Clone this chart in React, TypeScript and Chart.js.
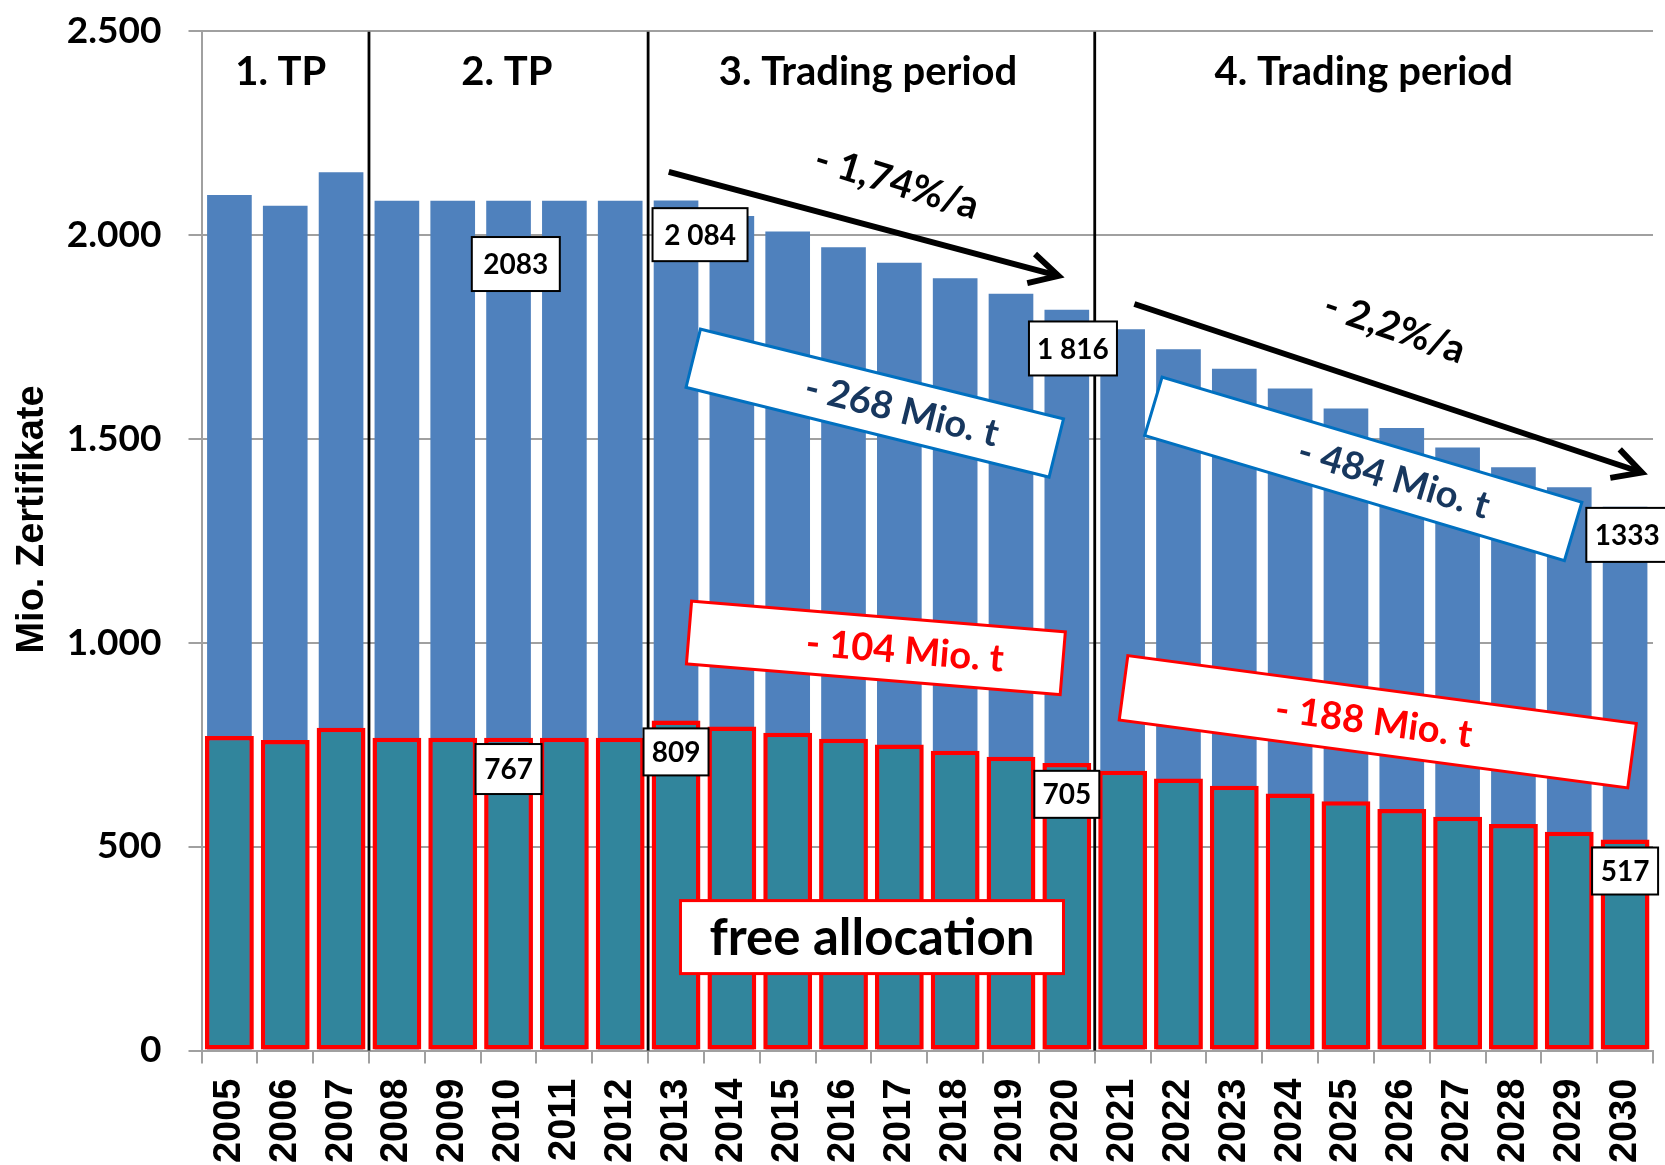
import React, { useEffect, useRef } from 'react';
import { Chart, registerables } from 'chart.js';

Chart.register(...registerables);

// ---------- data ----------
const years = [
  '2005', '2006', '2007', '2008', '2009', '2010', '2011', '2012', '2013',
  '2014', '2015', '2016', '2017', '2018', '2019', '2020', '2021', '2022',
  '2023', '2024', '2025', '2026', '2027', '2028', '2029', '2030',
];
const capValues = [
  2097, 2071, 2153, 2083, 2083, 2083, 2083, 2083, 2084, 2046, 2008, 1969, 1931,
  1893, 1855, 1816, 1768, 1719, 1671, 1623, 1574, 1526, 1478, 1430, 1381, 1333,
];
const freeAllocation = [
  771, 761, 791, 767, 767, 767, 767, 767, 809, 794, 779, 764, 750,
  735, 720, 705, 686, 667, 649, 630, 611, 592, 573, 555, 536, 517,
];
const yTickLabels = ['0', '500', '1.000', '1.500', '2.000', '2.500'];

// ---------- annotations (text) ----------
const periodLabels = ['1. TP', '2. TP', '3. Trading period', '4. Trading period'];
const valueLabels = ['2083', '2 084', '1 816', '1333', '767', '809', '705', '517'];
const trendLabels = ['- 1,74%/a', '- 2,2%/a'];
const reductionLabels = ['- 268 Mio. t', '- 484 Mio. t', '- 104 Mio. t', '- 188 Mio. t'];
const freeLabel = 'free allocation';

// ---------- annotation layout (index / value coordinates) ----------
const periodBoundaries = [2.5, 7.5, 15.5];
const periodLabelX = [0.92, 4.97, 11.44, 20.32];
const periodLabelY = 2398;

const valueLabelX = [5.13, 8.43, 15.11, 25.04, 5.0, 8.0, 15.0, 25.0];
const valueLabelY = [1928, 2000, 1721, 1264, 690, 732, 628, 440];
const valueLabelW = [88, 95, 88, 82, 66, 65, 65, 66];
const valueLabelH = [54, 53, 54, 54, 50, 47, 47, 47];

// arrows: [x1, y1, x2, y2]
const arrows = [
  [7.87, 2154, 14.85, 1899],
  [16.21, 1830, 25.3, 1417],
];
const trendLabelPos = [
  [11.95, 2127, 17],
  [20.87, 1771, 19],
];

// rotated boxes: [cx, cy, w, h, angle, textDx]
const reductionBoxes = [
  [11.56, 1587, 374, 60, 13.9, 28],
  [20.31, 1426, 438, 61, 16.6, 32],
  [11.58, 987, 375, 63, 4.7, 29],
  [20.57, 806, 513, 65, 7.6, -4],
];
const freeBox = [11.51, 278, 383, 73];

const BOLD_SANS = 'Lato';

function drawBox(
  ctx: CanvasRenderingContext2D,
  cx: number, cy: number, w: number, h: number, angle: number,
  stroke: string, lw: number, text: string, font: string, color: string, textDx = 0,
) {
  ctx.save();
  ctx.translate(cx, cy);
  ctx.rotate((angle * Math.PI) / 180);
  ctx.fillStyle = '#fff';
  ctx.fillRect(-w / 2, -h / 2, w, h);
  ctx.strokeStyle = stroke;
  ctx.lineWidth = lw;
  ctx.strokeRect(-w / 2, -h / 2, w, h);
  ctx.fillStyle = color;
  ctx.font = font;
  ctx.textAlign = 'center';
  ctx.textBaseline = 'middle';
  ctx.fillText(text, textDx, 1);
  ctx.restore();
}

export default function App() {
  const ref = useRef<HTMLCanvasElement>(null);

  useEffect(() => {
    const canvas = ref.current;
    if (!canvas) return;

    const annot = {
      id: 'annot',
      afterDatasetsDraw(chart: any) {
        const { ctx } = chart;
        const xs = chart.scales.x;
        const ys = chart.scales.y;
        const px = (i: number) => xs.getPixelForValue(i);
        const py = (v: number) => ys.getPixelForValue(v);
        ctx.save();

        // period separator lines
        ctx.strokeStyle = '#000';
        ctx.lineWidth = 2.8;
        periodBoundaries.forEach((b) => {
          const xx = px(b);
          ctx.beginPath();
          ctx.moveTo(xx, py(2500) + 1);
          ctx.lineTo(xx, py(0));
          ctx.stroke();
        });

        // period labels
        ctx.fillStyle = '#000';
        ctx.font = `bold 40px ${BOLD_SANS}`;
        ctx.textAlign = 'center';
        ctx.textBaseline = 'middle';
        periodLabels.forEach((t, i) => {
          ctx.fillText(t, px(periodLabelX[i]), py(periodLabelY));
        });

        // arrows
        ctx.lineWidth = 6;
        ctx.lineJoin = 'miter';
        arrows.forEach(([x1, y1, x2, y2]) => {
          const ax = px(x1), ay = py(y1), bx = px(x2), by = py(y2);
          const ang = Math.atan2(by - ay, bx - ax);
          ctx.beginPath();
          ctx.moveTo(ax, ay);
          ctx.lineTo(bx, by);
          ctx.stroke();
          const L = 32, spread = (28 * Math.PI) / 180;
          ctx.beginPath();
          ctx.moveTo(bx - L * Math.cos(ang - spread), by - L * Math.sin(ang - spread));
          ctx.lineTo(bx, by);
          ctx.lineTo(bx - L * Math.cos(ang + spread), by - L * Math.sin(ang + spread));
          ctx.stroke();
        });

        // trend labels
        ctx.font = `bold 39px ${BOLD_SANS}`;
        trendLabels.forEach((t, i) => {
          const [lx, ly, a] = trendLabelPos[i];
          ctx.save();
          ctx.translate(px(lx), py(ly));
          ctx.rotate((a * Math.PI) / 180);
          ctx.fillText(t, 0, 0);
          ctx.restore();
        });

        // reduction boxes
        reductionLabels.forEach((t, i) => {
          const [cx, cy, w, h, a, dx] = reductionBoxes[i];
          const blue = i < 2;
          drawBox(ctx, px(cx), py(cy), w, h, a,
            blue ? '#0070C0' : '#FF0000', 3, t, `bold 38px ${BOLD_SANS}`,
            blue ? '#17375E' : '#FF0000', dx);
        });

        // free allocation box
        drawBox(ctx, px(freeBox[0]), py(freeBox[1]), freeBox[2], freeBox[3], 0,
          '#FF0000', 3, freeLabel, `bold 51px ${BOLD_SANS}`, '#000', 0);

        // value label boxes
        valueLabels.forEach((t, i) => {
          drawBox(ctx, px(valueLabelX[i]), py(valueLabelY[i]), valueLabelW[i], valueLabelH[i], 0,
            '#000', 2, t, `bold 28px ${BOLD_SANS}`, '#000', 0);
        });

        ctx.restore();
      },
    };

    const chart = new Chart(canvas, {
      type: 'bar',
      data: {
        labels: years,
        datasets: [
          {
            label: 'free allocation',
            data: freeAllocation,
            backgroundColor: '#31859C',
            borderColor: '#FF0000',
            borderWidth: 4.5,
            borderSkipped: false,
            barPercentage: 0.875,
            categoryPercentage: 1,
          },
          {
            label: 'cap',
            data: capValues,
            backgroundColor: '#4F81BD',
            borderWidth: 0,
            barPercentage: 0.8,
            categoryPercentage: 1,
          },
        ],
      },
      options: {
        responsive: false,
        animation: false,
        layout: { padding: { top: 30.7, right: 12, left: 0, bottom: 0 } },
        plugins: {
          legend: { display: false },
          tooltip: { enabled: false },
          title: { display: false },
        },
        scales: {
          x: {
            stacked: true,
            offset: true,
            grid: {
              display: true,
              drawOnChartArea: false,
              drawTicks: true,
              tickLength: 13,
              color: '#A0A0A0',
              lineWidth: 2,
            },
            border: { display: true, color: '#A0A0A0', width: 2 },
            ticks: {
              autoSkip: false,
              maxRotation: 90,
              minRotation: 90,
              padding: 15,
              color: '#000',
              font: { family: 'Liberation Sans', size: 38, weight: 'bold' },
            },
            afterFit: (scale: any) => {
              scale.height = 114.5;
              scale.paddingLeft = 0;
              scale.paddingRight = 0;
            },
          },
          y: {
            stacked: false,
            min: 0,
            max: 2500,
            grid: {
              color: '#A0A0A0',
              lineWidth: 2,
              tickLength: 13,
            },
            border: { display: true, color: '#A0A0A0', width: 2 },
            ticks: {
              stepSize: 500,
              padding: 27,
              color: '#000',
              font: { family: BOLD_SANS, size: 37, weight: 'bold' },
              callback: (v: any) => yTickLabels[Math.round(Number(v) / 500)],
            },
            title: {
              display: true,
              text: '    Mio. Zertifikate',
              color: '#000',
              font: { family: 'Liberation Sans', size: 38, weight: 'bold' },
              padding: { top: 10, bottom: 0 },
            },
            afterFit: (scale: any) => {
              scale.width = 201.5;
              scale.paddingTop = 0;
              scale.paddingBottom = 0;
            },
          },
        },
      },
      plugins: [annot],
    });

    return () => chart.destroy();
  }, []);

  return (
    <div style={{ position: 'absolute', left: 0, top: 0, width: 1665, height: 1165, background: '#fff' }}>
      <canvas ref={ref} width={1665} height={1165} style={{ display: 'block', width: 1665, height: 1165 }} />
    </div>
  );
}
